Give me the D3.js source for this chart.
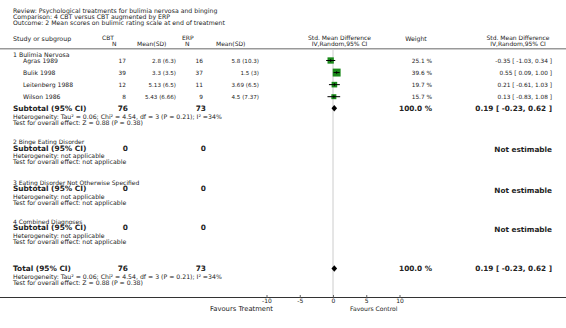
<!DOCTYPE html>
<html>
<head>
<meta charset="utf-8">
<script src="https://cdn.jsdelivr.net/npm/d3@7"></script>
<style>
  body { margin: 0; background: #fff; }
  text { font-family: "DejaVu Sans", Verdana, sans-serif; fill: #222; }
</style>
</head>
<body>
<div id="chart"></div>
<script>
// ---- data ----
var titleLines = [
    "Review:  Psychological treatments for bulimia nervosa and binging",
    "Comparison:  4 CBT versus CBT augmented by ERP",
    "Outcome:  2 Mean scores on bulimic rating scale at end of treatment"
];
var subgroups = ["1 Bulimia Nervosa", "2 Binge Eating Disorder",
    "3 Eating Disorder Not Otherwise Specified", "4 Combined Diagnoses"];
var studies = ["Agras 1989", "Bulik 1998", "Leitenberg 1988", "Wilson 1986"];
var cbtN = [17, 39, 12, 8];
var cbtMeanSD = ["2.8 (6.3)", "3.3 (3.5)", "5.13 (6.5)", "5.43 (6.66)"];
var erpN = [16, 37, 11, 9];
var erpMeanSD = ["5.8 (10.3)", "1.5 (3)", "3.69 (6.5)", "4.5 (7.37)"];
var weights = [25.1, 39.6, 19.7, 15.7];
var smd = [-0.35, 0.55, 0.21, 0.13];
var ciLow = [-1.03, 0.09, -0.61, -0.83];
var ciHigh = [0.34, 1.00, 1.03, 1.08];
var pooled = { est: 0.19, lo: -0.23, hi: 0.62, cbt: 76, erp: 73, weight: 100.0 };
var hetText = "Heterogeneity: Tau\u00B2 = 0.06; Chi\u00B2 = 4.54, df = 3 (P = 0.21); I\u00B2 =34%";
var effectText = "Test for overall effect: Z = 0.88 (P = 0.38)";
var axisTicks = [-10, -5, 0, 5, 10];

// ---- layout ----
var width = 566, height = 328;
var col = { study: 13, indent: 23, cbtN: 126, cbtMean: 176, erpN: 203, erpMean: 259, weight: 432, ci: 552 };
var loc = d3.formatLocale({ decimal: ".", thousands: ",", grouping: [3], currency: ["", ""], minus: "-" });
var fmt2 = loc.format(".2f");
var fmt1 = loc.format(".1f");

var svg = d3.select("#chart").append("svg")
    .attr("width", width)
    .attr("height", height);

var x = d3.scaleLinear().domain([-10, 10]).range([266.5, 399.5]);
var yStudy = d3.scalePoint().domain(studies).range([60.5, 96.7]);
var sqSize = d3.scaleSqrt().domain([0, 100]).range([0, 12.6]);

function txt(s, xp, yp, size, anchor, bold) {
    return svg.append("text")
        .attr("x", xp).attr("y", yp)
        .attr("dominant-baseline", "central")
        .attr("text-anchor", anchor || "start")
        .style("font-size", size + "px")
        .style("font-weight", bold ? "bold" : "normal")
        .text(s);
}

// title
titleLines.forEach(function(t, i) { txt(t, col.study, 10 + i * 6, 6.2); });

// column headers
txt("Study or subgroup", col.study, 38, 6.3);
txt("CBT", 102, 37, 6);
txt("N", 112, 43, 6);
txt("Mean(SD)", 137, 43, 6);
txt("ERP", 182, 37, 6);
txt("N", 185, 43, 6);
txt("Mean(SD)", 216, 43, 6);
txt("Std. Mean Difference", 339.5, 37.7, 6, "middle");
txt("IV,Random,95% CI", 339.5, 43.3, 6, "middle");
txt("Weight", 416, 38, 6.2, "middle");
txt("Std. Mean Difference", 518, 37.7, 6, "middle");
txt("IV,Random,95% CI", 518, 43.3, 6, "middle");

svg.append("line")
    .attr("x1", 0).attr("x2", width)
    .attr("y1", 48.7).attr("y2", 48.7)
    .attr("stroke", "#999").attr("stroke-width", 1.5);

// zero line
svg.append("line")
    .attr("x1", x(0)).attr("x2", x(0))
    .attr("y1", 50).attr("y2", 297.5)
    .attr("stroke", "#ccc").attr("stroke-width", 1);

// subgroup 1
txt(subgroups[0], col.study, 54.5, 6.2);
studies.forEach(function(s, i) {
    var yy = yStudy(s);
    txt(s, col.indent, yy, 6.1);
    txt(cbtN[i], col.cbtN, yy, 5.8, "end");
    txt(cbtMeanSD[i], col.cbtMean, yy, 5.6, "end");
    txt(erpN[i], col.erpN, yy, 5.8, "end");
    txt(erpMeanSD[i], col.erpMean, yy, 5.6, "end");
    txt(fmt1(weights[i]) + " %", col.weight, yy, 5.8, "end");
    txt(fmt2(smd[i]) + " [ " + fmt2(ciLow[i]) + ", " + fmt2(ciHigh[i]) + " ]", col.ci, yy, 5.8, "end");
});

var g = svg.append("g");
g.selectAll("rect.study")
    .data(studies)
    .enter().append("rect")
    .attr("class", "study")
    .attr("x", function(d, i) { return x(smd[i]) - sqSize(weights[i]) / 2; })
    .attr("y", function(d, i) { return yStudy(d) - sqSize(weights[i]) / 2; })
    .attr("width", function(d, i) { return sqSize(weights[i]); })
    .attr("height", function(d, i) { return sqSize(weights[i]); })
    .attr("fill", "#1a8a1a");
g.selectAll("line.ci")
    .data(studies)
    .enter().append("line")
    .attr("class", "ci")
    .attr("x1", function(d, i) { return x(ciLow[i]); })
    .attr("x2", function(d, i) { return x(ciHigh[i]); })
    .attr("y1", function(d) { return yStudy(d); })
    .attr("y2", function(d) { return yStudy(d); })
    .attr("stroke", "#000").attr("stroke-width", 1);
g.selectAll("line.tickv")
    .data(studies)
    .enter().append("line")
    .attr("class", "tickv")
    .attr("x1", function(d, i) { return x(smd[i]); })
    .attr("x2", function(d, i) { return x(smd[i]); })
    .attr("y1", function(d) { return yStudy(d) - 1.5; })
    .attr("y2", function(d) { return yStudy(d) + 1.5; })
    .attr("stroke", "#000").attr("stroke-width", 0.8);

function diamond(yy) {
    var h = 3.2;
    svg.append("path")
        .attr("d", "M" + x(pooled.lo) + "," + yy + "L" + x(pooled.est) + "," + (yy - h) +
            "L" + x(pooled.hi) + "," + yy + "L" + x(pooled.est) + "," + (yy + h) + "Z")
        .attr("fill", "#000");
}

function summaryBlock(label, yy, n1, n2, estimable, het, eff) {
    txt(label, col.study, yy, 7.4, "start", true);
    txt(n1, col.cbtN + 2, yy, 7.4, "end", true);
    txt(n2, col.erpN + 3, yy, 7.4, "end", true);
    if (estimable) {
        txt(fmt1(pooled.weight) + " %", col.weight, yy, 7.3, "end", true);
        txt(fmt2(pooled.est) + " [ " + fmt2(pooled.lo) + ", " + fmt2(pooled.hi) + " ]", col.ci, yy, 7.3, "end", true);
        diamond(yy);
    } else {
        txt("Not estimable", col.ci, yy + 1.5, 7.3, "end", true);
    }
    txt(het, col.study, yy + 7.8, 6.2);
    txt(eff, col.study, yy + 13.8, 6.2);
}

summaryBlock("Subtotal (95% CI)", 108.3, pooled.cbt, pooled.erp, true, hetText, effectText);

var emptyY = [141.5, 182, 221];
subgroups.slice(1).forEach(function(sg, i) {
    txt(sg, col.study, emptyY[i], 6);
    summaryBlock("Subtotal (95% CI)", emptyY[i] + 6.5, 0, 0, false,
        "Heterogeneity: not applicable", "Test for overall effect: not applicable");
});

summaryBlock("Total (95% CI)", 268.5, pooled.cbt, pooled.erp, true, hetText, effectText);

// axis
svg.append("line")
    .attr("x1", 0).attr("x2", width)
    .attr("y1", 297.5).attr("y2", 297.5)
    .attr("stroke", "#333").attr("stroke-width", 1);

var axis = svg.append("g")
    .attr("transform", "translate(0,297.5)")
    .call(d3.axisBottom(x).tickValues(axisTicks).tickFormat(loc.format("d"))
        .tickSizeInner(-2.5).tickSizeOuter(0).tickPadding(1));
axis.select(".domain").remove();
axis.selectAll(".tick line").attr("stroke", "#666");
axis.selectAll(".tick text")
    .style("font-size", "6px")
    .style("font-family", "DejaVu Sans, Verdana, sans-serif")
    .attr("fill", "#222");

txt("Favours Treatment", 273, 308.5, 6.8, "end");
txt("Favours Control", 350, 308.5, 6.1, "start");
</script>
</body>
</html>
